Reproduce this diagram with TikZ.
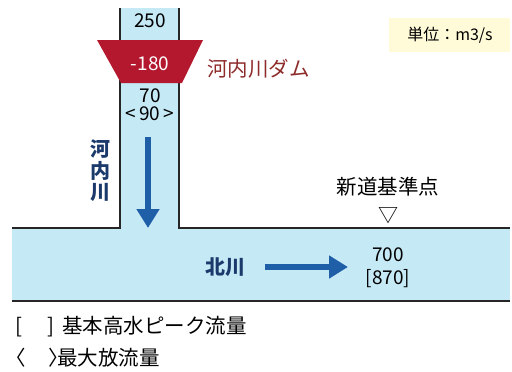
\documentclass[tikz,border=0pt]{standalone}
\usepackage{fontspec}
\setmainfont{Noto Sans CJK JP}
\usetikzlibrary{arrows.meta}
\definecolor{water}{HTML}{C6E9F6}
\definecolor{damred}{HTML}{B3182E}
\definecolor{damtext}{HTML}{8E2B2B}
\definecolor{flowblue}{HTML}{1F5FA8}
\definecolor{navy}{HTML}{1B3A6B}
\definecolor{unitbg}{HTML}{FFFBD8}
\tikzset{
  bank/.style={line width=1.6pt, draw=black!85},
  num/.style={font=\fontsize{19}{21}\selectfont, inner sep=0pt},
  label/.style={font=\fontsize{20.5}{22}\selectfont, inner sep=0pt},
  riverlabel/.style={font=\fontsize{20}{22}\selectfont\bfseries, text=navy, inner sep=0pt},
  flow/.style={draw=flowblue, line width=5.5pt, -{Triangle[width=22pt,length=19pt]}},
}
\begin{document}
\begin{tikzpicture}[x=1pt,y=-1pt]
\useasboundingbox (0,0) rectangle (512,372);
% water fill
\fill[water] (120,8) rectangle (179,229);
\fill[water] (12,228) rectangle (510,301);
% banks
\draw[bank] (120,8) -- (120,228) -- (12,228);
\draw[bank] (179,8) -- (179,228) -- (510,228);
\draw[bank] (12,301) -- (510,301);
% dam
\fill[damred] (97,40) -- (203,40) -- (182,83) -- (121,83) -- cycle;
\node[num, text=white] (dam) at (150,64) {-180};
\node[label, text=damtext, anchor=west] (damname) at (207,69) {河内川ダム};
% values on Kawachi river
\node[num] (inflow) at (150,21) {250};
\node[num] (out) at (150,96) {70};
\node[num] (outmax) at (150,114) {<\,90\,>};
% river names
\node[riverlabel] (k1) at (100,149) {河};
\node[riverlabel] (k2) at (100,171) {内};
\node[riverlabel] (k3) at (100,192) {川};
\node[riverlabel, anchor=west] (kita) at (205,267) {北川};
% arrows
\coordinate (va) at (148,137);
\coordinate (vb) at (148,228);
\draw[flow] (va) -- (vb);
\coordinate (ha) at (265,267);
\coordinate (hb) at (348,267);
\draw[flow] (ha) -- (hb);
% reference point
\node[label] (pt) at (388,187) {新道基準点};
\node[inner sep=0pt, font=\fontsize{20}{22}\selectfont] (tri) at (388,216) {▽};
\node[num] (q) at (388,255) {700};
\node[num] (qmax) at (388,279) {[870]};
% legend
\node[label, anchor=west] (leg1) at (15,327) {[\hspace{25pt}]\hspace{8pt}基本高水ピーク流量};
\node[label, anchor=west] (leg2) at (5,358) {〈\hspace{23pt}〉\hspace{-12pt}最大放流量};
% unit
\fill[unitbg] (389,18) rectangle (510,52);
\node[font=\fontsize{16}{18}\selectfont, inner sep=0pt] (unit) at (450,35) {単位：m3/s};
\end{tikzpicture}
\end{document}
